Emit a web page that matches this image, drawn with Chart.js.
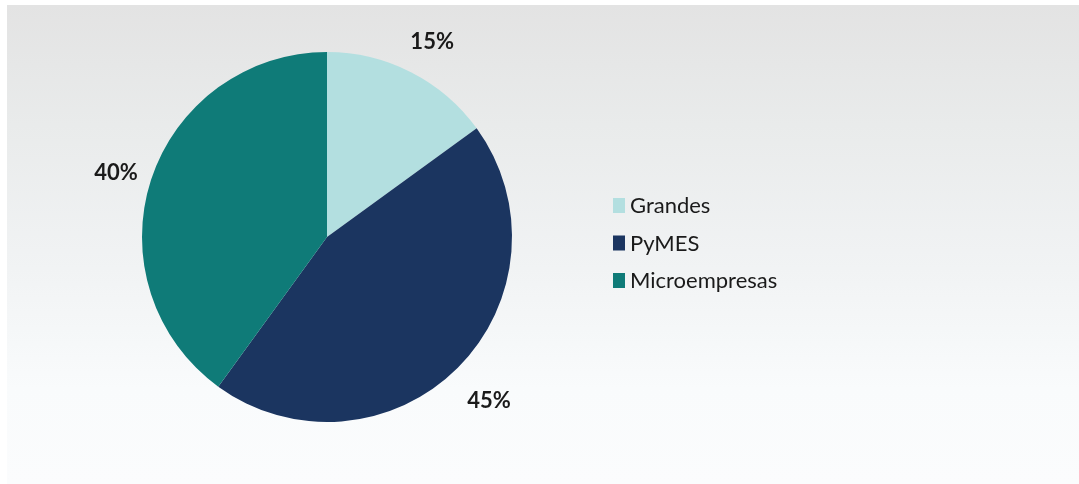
<!DOCTYPE html>
<html>
<head>
<meta charset="utf-8">
<script src="https://cdn.jsdelivr.net/npm/chart.js@4/dist/chart.umd.min.js"></script>
<style>
  html, body { margin: 0; padding: 0; background: #ffffff; }
  #wrap { position: relative; width: 1079px; height: 484px; overflow: hidden; }
  #panel {
    position: absolute; left: 7px; top: 5px; right: 0; bottom: 0;
    background: linear-gradient(to bottom, #e3e3e3 0%, #e9ebeb 25%, #f1f3f4 55%, #f9fbfc 80%, #fbfcfd 100%);
  }
  #c { position: absolute; left: 0; top: 0; }
</style>
</head>
<body>
<div id="wrap">
  <div id="panel"></div>
  <canvas id="c" width="1079" height="484"></canvas>
</div>
<script>
// Distribución por tamaño de empresa
const categories = ['Grandes', 'PyMES', 'Microempresas'];
const shares = [15, 45, 40];
const sliceColors = ['#b3dfe0', '#1b3560', '#0f7b78'];

// Percentage labels just outside each slice
const sliceLabels = {
  id: 'sliceLabels',
  afterDatasetsDraw(chart) {
    const ctx = chart.ctx;
    const meta = chart.getDatasetMeta(0);
    ctx.save();
    ctx.font = 'bold 22px Lato, "DejaVu Sans", sans-serif';
    ctx.fillStyle = '#1a1a1a';
    ctx.textAlign = 'center';
    ctx.textBaseline = 'middle';
    meta.data.forEach((arc, i) => {
      const p = arc.getProps(['x', 'y', 'startAngle', 'endAngle', 'outerRadius'], true);
      const mid = (p.startAngle + p.endAngle) / 2;
      const r = p.outerRadius + 40;
      ctx.fillText(shares[i] + '%', p.x + Math.cos(mid) * r + 3, p.y + Math.sin(mid) * r + 5);
    });
    ctx.restore();
  }
};

// Legend block to the right of the pie
const sideLegend = {
  id: 'sideLegend',
  afterDraw(chart) {
    const ctx = chart.ctx;
    const ds = chart.data.datasets[0];
    ctx.save();
    ctx.font = '22px Lato, "DejaVu Sans", sans-serif';
    ctx.textBaseline = 'middle';
    ctx.textAlign = 'left';
    const x0 = 613, y0 = 205, step = 37.5;
    chart.data.labels.forEach((lab, i) => {
      const y = y0 + i * step;
      ctx.fillStyle = ds.backgroundColor[i];
      ctx.fillRect(x0, y - 7, 12, 15);
      ctx.fillStyle = '#1a1a1a';
      ctx.fillText(lab, x0 + 17, y + 1);
    });
    ctx.restore();
  }
};

new Chart(document.getElementById('c'), {
  type: 'pie',
  data: {
    labels: categories,
    datasets: [{
      data: shares,
      backgroundColor: sliceColors,
      borderWidth: 0
    }]
  },
  options: {
    responsive: false,
    animation: false,
    layout: { padding: { top: 52, bottom: 62, left: 142, right: 567 } },
    plugins: {
      legend: { display: false },
      tooltip: { enabled: false }
    }
  },
  plugins: [sliceLabels, sideLegend]
});
</script>
</body>
</html>
